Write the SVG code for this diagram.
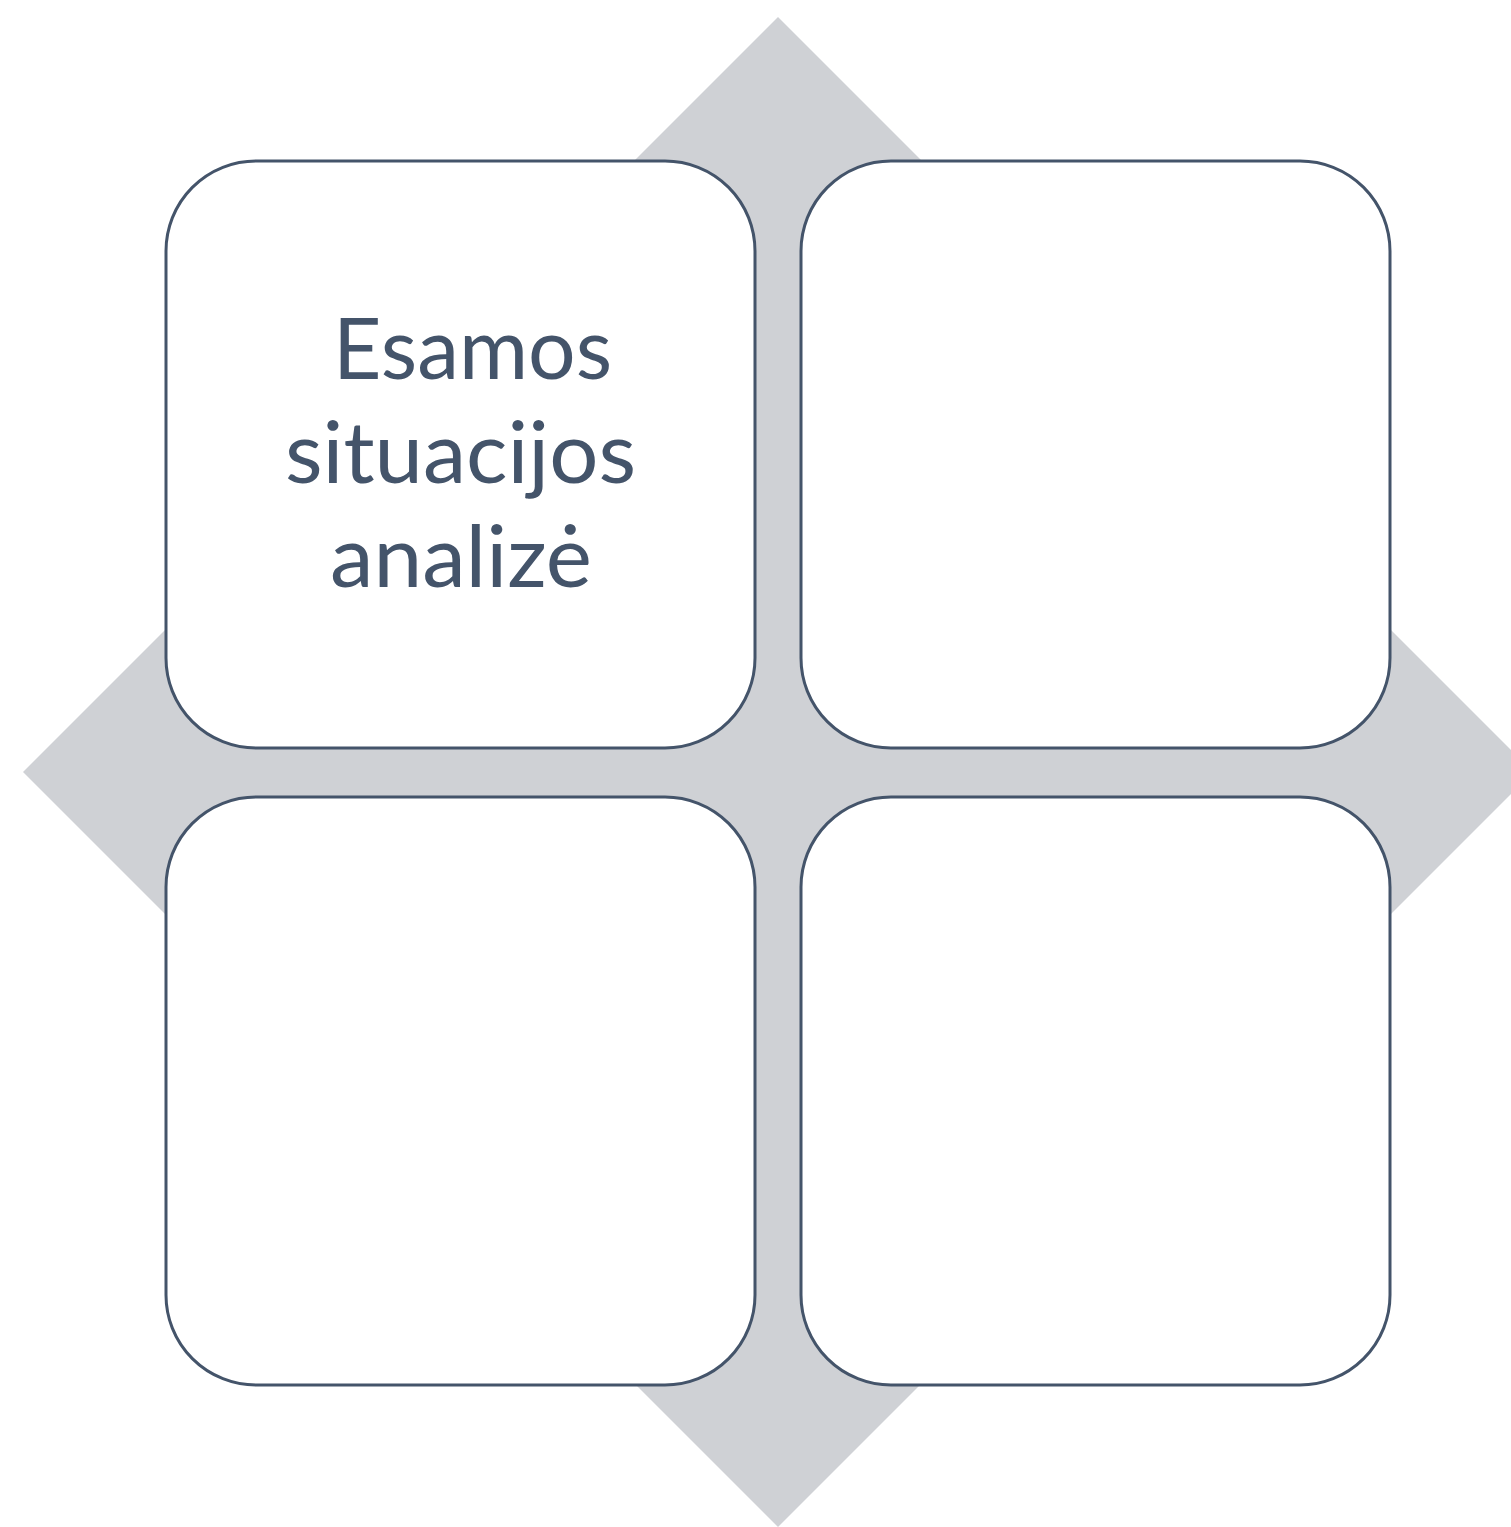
<svg xmlns="http://www.w3.org/2000/svg" width="1511" height="1527" viewBox="0 0 1511 1527">
<style>
.box{fill:#ffffff;stroke:#44546A;stroke-width:3}
.lbl{fill:#44546A;font-family:Lato,"Liberation Sans",sans-serif;font-size:85px}
</style>
<rect width="1511" height="1527" fill="#ffffff"/>
<g id="background">
<polygon points="778,17 1533,772 778,1527 23,772" fill="#CFD1D5"/>
</g>
<g id="connectors"></g>
<g id="node-tl">
<rect class="box" x="166" y="161" width="589" height="587" rx="90" ry="90"/>
<text class="lbl" x="333" y="379" textLength="279" lengthAdjust="spacingAndGlyphs">Esamos</text>
<text class="lbl" x="285" y="483" textLength="351" lengthAdjust="spacingAndGlyphs">situacijos</text>
<text class="lbl" x="330" y="587" textLength="262" lengthAdjust="spacingAndGlyphs">analizė</text>
</g>
<g id="node-tr">
<rect class="box" x="801" y="161" width="589" height="587" rx="90" ry="90"/>
</g>
<g id="node-bl">
<rect class="box" x="166" y="797" width="589" height="588" rx="90" ry="90"/>
</g>
<g id="node-br">
<rect class="box" x="801" y="797" width="589" height="588" rx="90" ry="90"/>
</g>
</svg>
